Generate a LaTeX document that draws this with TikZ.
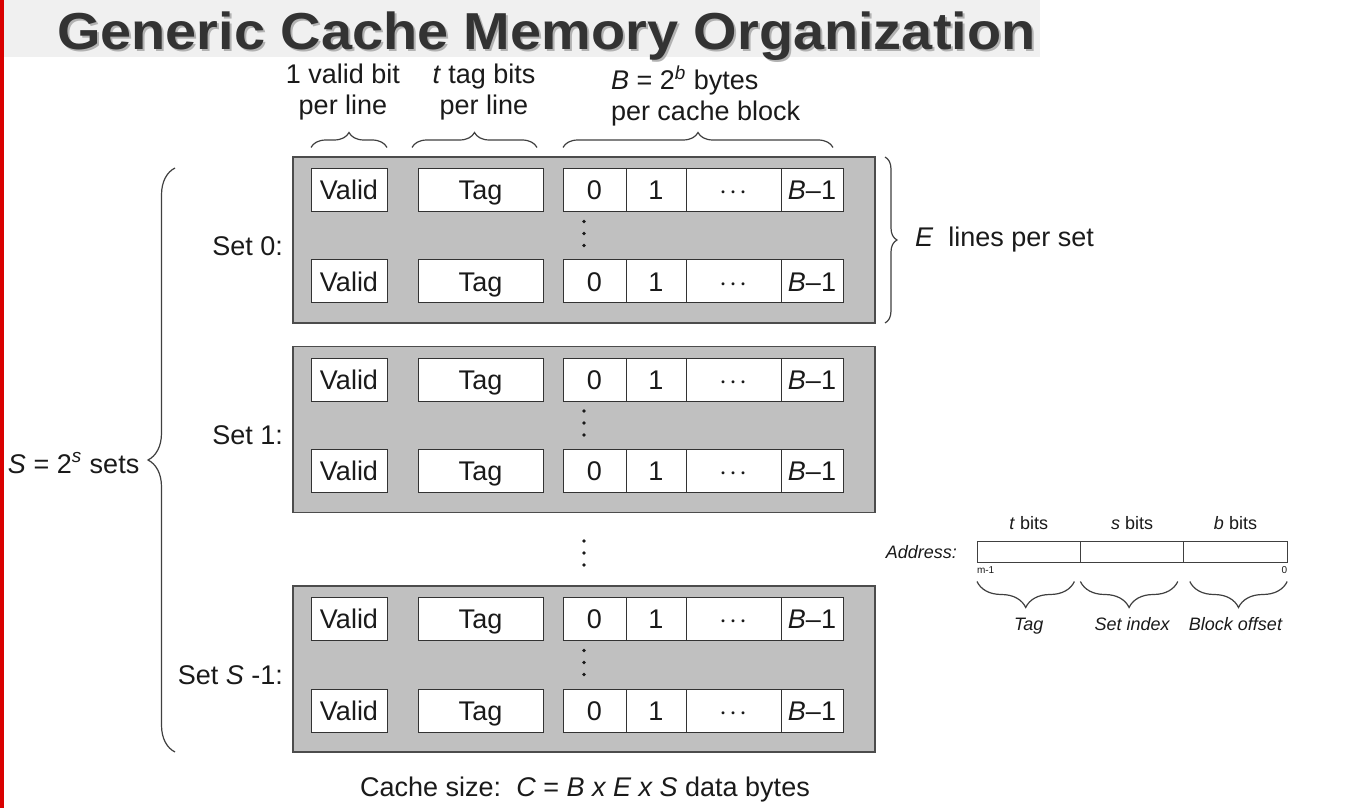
\documentclass[tikz,border=0pt]{standalone}
\usepackage{fontspec}
\setmainfont{Liberation Sans}
\usepackage{xcolor}
\usetikzlibrary{positioning,decorations.pathreplacing}
\definecolor{setgray}{HTML}{C0C0C0}
\definecolor{inkgray}{HTML}{1A1A1A}

\begin{document}
\begin{tikzpicture}[x=0.5pt, y=-0.5pt,
  every node/.style={inner sep=0pt, outer sep=0pt, text=inkgray},
  lbl/.style={font=\fontsize{13.5}{15.5}\selectfont},
  small/.style={font=\fontsize{9}{11}\selectfont},
  setbox/.style={draw=black!70, fill=setgray, line width=0.8pt, minimum width=291pt, minimum height=83pt},
  cell/.style={draw=black!80, fill=white, line width=0.5pt, minimum height=21.5pt, text height=9.7pt, text depth=0pt, font=\fontsize{13.5}{16}\selectfont},
  acell/.style={draw=black!75, fill=white, line width=0.5pt, minimum height=10.5pt, minimum width=51.7pt},
  brc/.style={decorate, decoration={brace, amplitude=#1}, draw=black!75, line width=0.6pt},
  vdot/.style={fill=inkgray, circle, minimum size=1.9pt}]
  \useasboundingbox (0,0) rectangle (1346,808);
  \fill[white] (0,0) rectangle (1346,808);
  \fill[black!6] (0,0) rectangle (1040,57);
  \fill[red!85!black] (0,0) rectangle (4,808);
  \node (title-sh) [anchor=base west, text=black!30, text depth=0pt, font=\fontsize{26}{30}\selectfont\bfseries] at (59,52) {\scalebox{1.075}[1]{Generic Cache Memory Organization}};
  \node (title) [anchor=base west, text=black!80, text depth=0pt, font=\fontsize{26}{30}\selectfont\bfseries] at (57,50) {\scalebox{1.075}[1]{Generic Cache Memory Organization}};

  \foreach \s/\y/\name in {0/240/{Set 0:}, 1/429.5/{Set 1:}, 2/669/{Set \textit{S} -1:}} {
    \node (set-\s) [setbox] at (584,\y) {};
    \node (lbl-\s) [lbl, anchor=east] at (283,\y+6) {\name};
    \foreach \r/\dy in {1/-50, 2/41.5} {
      \node (v-\s-\r) [cell, minimum width=38pt] at (349,\y+\dy) {Valid};
      \node (t-\s-\r) [cell, minimum width=62.5pt] at (480.5,\y+\dy) {Tag};
      \node (d0-\s-\r) [cell, minimum width=31.5pt] at (594.5,\y+\dy) {0};
      \node (d1-\s-\r) [cell, minimum width=30pt, right=0pt of d0-\s-\r] {1};
      \node (dd-\s-\r) [cell, minimum width=47.5pt, right=0pt of d1-\s-\r] {$\cdot\!\cdot\!\cdot$};
      \node (dB-\s-\r) [cell, minimum width=31pt, right=0pt of dd-\s-\r] {\textit{B}–1};
    }
    \foreach \k in {-18.5,-6.5,5.5}
      \node [vdot] at (584,\y+\k) {};
  }
  \foreach \k in {541,553,565}
    \node [vdot] at (584,\k) {};

  \node (hd-valid) [lbl, align=center] at (343,92) {1 valid bit\\per line};
  \node (hd-tag) [lbl, align=center] at (484,92) {\textit{t} tag bits\\per line};
  \node (hd-block) [lbl, align=left, anchor=west] at (611,96) {\textit{B} = 2\textsuperscript{\textit{b}} bytes\\per cache block};
  \draw[brc=7.5pt] ([yshift=10.5pt]v-0-1.north west) -- ([yshift=10.5pt]v-0-1.north east);
  \draw[brc=7.5pt] ([xshift=-3pt,yshift=10.5pt]t-0-1.north west) -- ([xshift=-3pt,yshift=10.5pt]t-0-1.north east);
  \draw[brc=7.5pt] ([yshift=10.5pt]d0-0-1.north west) -- ([xshift=-5pt,yshift=10.5pt]dB-0-1.north east);

  \draw[brc=6pt] ([xshift=5pt]set-0.north east) -- ([xshift=5pt]set-0.south east);
  \node (elines) [lbl, anchor=west] at ([xshift=20pt]set-0.east) {\textit{E}\ \ lines per set};
  \draw[brc=13.5pt] ([xshift=-59pt]set-2.south west) -- ([xshift=-59pt,yshift=-5.5pt]set-0.north west);
  \node (nsets) [lbl, anchor=west] at (8,463) {\textit{S} = 2\textsuperscript{\textit{s}} sets};
  \node (csize) [lbl] at (585,790) {Cache size:\ \ \textit{C} = \textit{B x E x S} data bytes};

  \node (a-t) [acell] at (1028.7,552) {};
  \node (a-s) [acell, right=0pt of a-t] {};
  \node (a-b) [acell, right=0pt of a-s] {};
  \node (addr) [small, anchor=east] at ([xshift=-10pt]a-t.west) {\itshape Address:};
  \node (tbits) [small, anchor=base] at ([yshift=6pt]a-t.north) {\textit{t} bits};
  \node (sbits) [small, anchor=base] at ([yshift=6pt]a-s.north) {\textit{s} bits};
  \node (bbits) [small, anchor=base] at ([yshift=6pt]a-b.north) {\textit{b} bits};
  \node (msb) [font=\fontsize{5}{6}\selectfont, anchor=north west] at ([yshift=-2pt]a-t.south west) {m-1};
  \node (lsb) [font=\fontsize{5}{6}\selectfont, anchor=north east] at ([yshift=-2pt]a-b.south east) {0};
  \draw[brc=13pt] ([xshift=-3pt,yshift=-9.5pt]a-t.south east) -- ([yshift=-9.5pt]a-t.south west);
  \draw[brc=13pt] ([xshift=-3pt,yshift=-9.5pt]a-s.south east) -- ([yshift=-9.5pt]a-s.south west);
  \draw[brc=13pt] ([yshift=-9.5pt]a-b.south east) -- ([xshift=3pt,yshift=-9.5pt]a-b.south west);
  \node (ftag) [small, anchor=base] at ([yshift=-34pt]a-t.south) {\itshape Tag};
  \node (fset) [small, anchor=base] at ([yshift=-34pt]a-s.south) {\itshape Set index};
  \node (foff) [small, anchor=base] at ([yshift=-34pt]a-b.south) {\itshape Block offset};
\end{tikzpicture}
\end{document}
